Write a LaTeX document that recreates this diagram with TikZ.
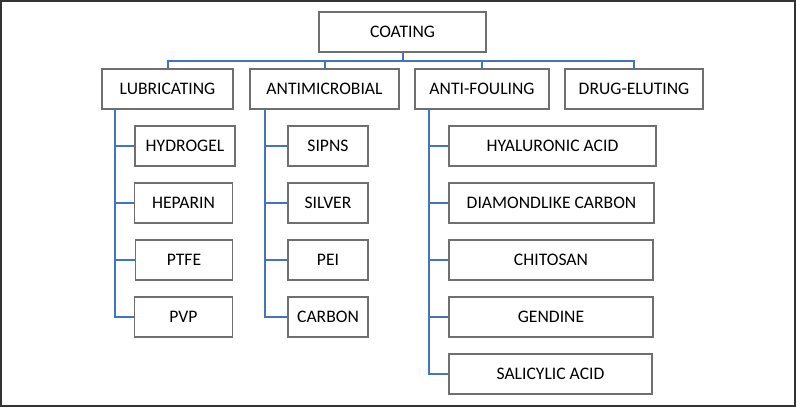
\documentclass[tikz,border=0pt]{standalone}
\usepackage{fontspec}
\setmainfont{Carlito}
\definecolor{boxgray}{HTML}{6F6F6F}
\definecolor{linkblue}{HTML}{4472C4}
\definecolor{framegray}{HTML}{333333}
\begin{document}
\begin{tikzpicture}[x=0.75pt,y=-0.75pt,
  box/.style={draw=boxgray, line width=0.9pt, fill=white, minimum height=30pt, inner sep=0pt, font=\fontsize{13.2}{15}\selectfont, text=black},
  link/.style={draw=linkblue, line width=1.5pt}]
\useasboundingbox (0,0) rectangle (796,407);
\draw[framegray, line width=1.2pt] (1,1) rectangle (795,406);
% top
\node[box, minimum width=125.25pt] (coat) at (402.5,32) {COATING};
\node[box, minimum width=98.25pt] (lub) at (167.5,89) {LUBRICATING};
\node[box, minimum width=111.75pt] (anti) at (324.5,89) {ANTIMICROBIAL};
\node[box, minimum width=100.5pt] (af) at (482,89) {ANTI-FOULING};
\node[box, minimum width=103.5pt] (drug) at (634,89) {DRUG-ELUTING};
\coordinate (bus) at (0,61);
% lubricating children
\node[box, minimum width=75pt] (hyd) at (185,146) {HYDROGEL};
\node[box, minimum width=73pt] (hep) at (183.5,203) {HEPARIN};
\node[box, minimum width=73pt] (ptfe) at (184,260) {PTFE};
\node[box, minimum width=73pt] (pvp) at (183.5,317) {PVP};
% antimicrobial children
\node[box, minimum width=60pt] (sipns) at (328,146) {SIPNS};
\node[box, minimum width=60pt] (silver) at (328,203) {SILVER};
\node[box, minimum width=60pt] (pei) at (328,260) {PEI};
\node[box, minimum width=60pt] (carbon) at (328,317) {CARBON};
% anti-fouling children
\node[box, minimum width=155.25pt] (hya) at (552.5,146) {HYALURONIC ACID};
\node[box, minimum width=153.75pt] (dlc) at (551.5,203) {DIAMONDLIKE CARBON};
\node[box, minimum width=153pt] (chi) at (551,260) {CHITOSAN};
\node[box, minimum width=153pt] (gen) at (551,317) {GENDINE};
\node[box, minimum width=152.25pt] (sal) at (550.5,374) {SALICYLIC ACID};
% top connectors
\draw[link] (coat.south) -- (coat.south |- bus);
\draw[link] (lub.north) -- (lub.north |- bus) -- (drug.north |- bus) -- (drug.north);
\draw[link] (anti.north) -- (anti.north |- bus);
\draw[link] (af.north) -- (af.north |- bus);
% child connectors
\coordinate (lubL) at (115,109);
\coordinate (antL) at (265,109);
\coordinate (afL) at (429,109);
\draw[link] (lubL) |- (pvp.west);
\foreach \n in {hyd,hep,ptfe} \draw[link] (lubL |- \n.west) -- (\n.west);
\draw[link] (antL) |- (carbon.west);
\foreach \n in {sipns,silver,pei} \draw[link] (antL |- \n.west) -- (\n.west);
\draw[link] (afL) |- (sal.west);
\foreach \n in {hya,dlc,chi,gen} \draw[link] (afL |- \n.west) -- (\n.west);
\end{tikzpicture}
\end{document}
